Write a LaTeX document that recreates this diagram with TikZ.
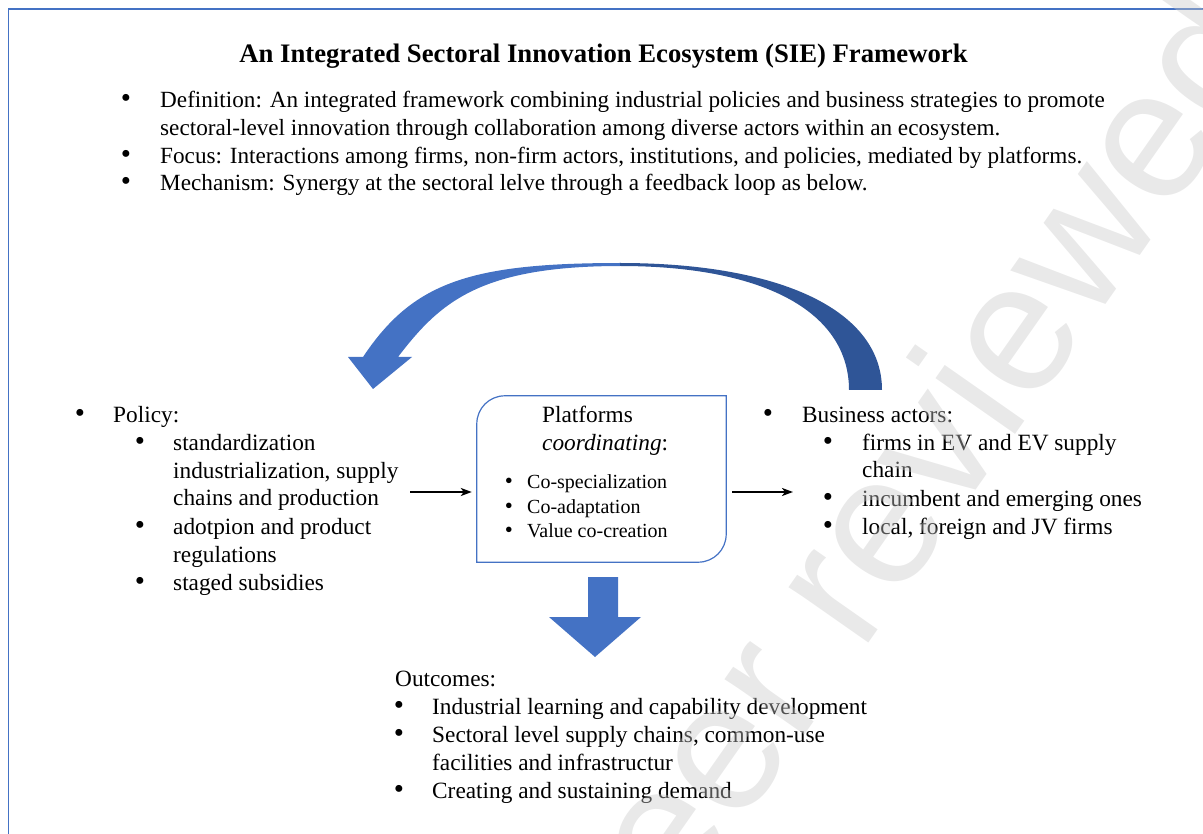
\documentclass[tikz,border=0pt]{standalone}
\usepackage{fontspec}
\setmainfont{Liberation Serif}
\newfontfamily\markfont{Liberation Sans}
\usetikzlibrary{arrows.meta,calc}
\definecolor{accent}{HTML}{4472C4}
\definecolor{accentdark}{HTML}{2F5597}
\definecolor{markgray}{RGB}{200,200,200}

\begin{document}
\begin{tikzpicture}[x=1pt,y=-1pt,
  txt/.style={anchor=base west,inner sep=0pt,font=\fontsize{23.3}{28}\selectfont},
  toptxt/.style={anchor=base west,inner sep=0pt,font=\fontsize{23.2}{28}\selectfont},
  smalltxt/.style={anchor=base west,inner sep=0pt,font=\fontsize{20}{24}\selectfont},
  dot/.style={anchor=base,inner sep=0pt,font=\fontsize{29}{30}\selectfont},
  smalldot/.style={anchor=base,inner sep=0pt,font=\fontsize{23}{24}\selectfont},
  boxline/.style={draw=accent,line width=1.2pt},
  conn/.style={draw=black,line width=2pt,-{Stealth[length=11pt,width=8pt,inset=3pt]}},
  frameline/.style={draw=accent,line width=1.5pt}
]
\useasboundingbox (0,0) rectangle (1203,834);

% page frame
\draw[frameline] (8.5,834) -- (8.5,9) -- (1203,9);

% title
\node[anchor=base,inner sep=0pt,font=\fontsize{26.7}{30}\selectfont\bfseries] (title) at (603.5,63)
  {An Integrated Sectoral Innovation Ecosystem (SIE) Framework};

% introductory bullet list
\node[dot] (tb1) at (126,108) {•};
\node[toptxt] (def1) at (160,108) {Definition: An integrated framework combining industrial policies and business strategies to promote};
\node[toptxt] (def2) at (160,136) {sectoral-level innovation through collaboration among diverse actors within an ecosystem.};
\node[dot] (tb2) at (126,164) {•};
\node[toptxt] (focus) at (160,164) {Focus: Interactions among firms, non-firm actors, institutions, and policies, mediated by platforms.};
\node[dot] (tb3) at (126,191) {•};
\node[toptxt] (mech) at (160,191) {Mechanism: Synergy at the sectoral lelve through a feedback loop as below.};

% policy block
\node[dot] (pb0) at (80,422) {•};
\node[txt] (policy) at (113,422) {Policy:};
\node[dot] (pb1) at (140,450) {•};
\node[txt] (pol1) at (173,450) {standardization};
\node[txt] (pol2) at (173,478) {industrialization, supply};
\node[txt] (pol3) at (173,505) {chains and production};
\node[dot] (pb2) at (140,534) {•};
\node[txt] (pol4) at (173,534) {adotpion and product};
\node[txt] (pol5) at (173,562) {regulations};
\node[dot] (pb3) at (140,590) {•};
\node[txt] (pol6) at (173,590) {staged subsidies};

% platform box
\node[minimum width=249pt,minimum height=166pt,inner sep=0pt] (plat) at (601.5,479) {};
\draw[boxline] (plat.south west) -- ($(plat.north west)+(0,28)$)
  .. controls ($(plat.north west)+(0,12.5)$) and ($(plat.north west)+(12.5,0)$) .. ($(plat.north west)+(28,0)$)
  -- (plat.north east) -- ($(plat.south east)+(0,-28)$)
  .. controls ($(plat.south east)+(0,-12.5)$) and ($(plat.south east)+(-12.5,0)$) .. ($(plat.south east)+(-28,0)$)
  -- cycle;
\node[txt] (plat1) at (542,423) {Platforms};
\node[txt] (plat2) at (542,450) {\itshape coordinating\upshape:};
\node[smalldot] (sb1) at (509,488) {•};
\node[smalltxt] (co1) at (527,488) {Co-specialization};
\node[smalldot] (sb2) at (509,513) {•};
\node[smalltxt] (co2) at (527,513) {Co-adaptation};
\node[smalldot] (sb3) at (509,537) {•};
\node[smalltxt] (co3) at (527,537) {Value co-creation};

% business actors block
\node[dot] (bb0) at (768,422) {•};
\node[txt] (biz) at (802,422) {Business actors:};
\node[dot] (bb1) at (828,450) {•};
\node[txt] (biz1) at (862,450) {firms in EV and EV supply};
\node[txt] (biz2) at (862,477) {chain};
\node[dot] (bb2) at (828,506) {•};
\node[txt] (biz3) at (862,506) {incumbent and emerging ones};
\node[dot] (bb3) at (828,534) {•};
\node[txt] (biz4) at (862,534) {local, foreign and JV firms};

% outcomes block
\node[txt] (out) at (395,686) {Outcomes:};
\node[dot] (ob1) at (399,714) {•};
\node[txt] (out1) at (432,714) {Industrial learning and capability development};
\node[dot] (ob2) at (399,742) {•};
\node[txt] (out2) at (432,742) {Sectoral level supply chains, common-use};
\node[txt] (out3) at (432,770) {facilities and infrastructur};
\node[dot] (ob3) at (399,798) {•};
\node[txt] (out4) at (432,798) {Creating and sustaining demand};

% connectors into and out of the platform box
\coordinate (pin) at (410,492);
\coordinate (bin) at (793,492);
\draw[conn,shorten >=5pt] (pin) -- (pin -| plat.west);
\draw[conn,shorten <=6pt] (plat.east |- bin) -- (bin);

% block arrow down to outcomes
\fill[accent] (588,577) -- (618,577) -- (618,617) -- (641,617) -- (595,657)
  -- (549,617) -- (588,617) -- cycle;

% curved feedback arrow: lighter left half with head, darker right half
\fill[accent] (621,263) .. controls (470,263) and (413,282) .. (363,357)
  -- (348,357) -- (373,389) -- (412,357) -- (398,357)
  .. controls (440,302) and (480,266) .. (621,266) -- cycle;
\fill[accentdark] (620,263) .. controls (780,263) and (882,310) .. (882,390)
  -- (849,390) .. controls (849,315) and (770,266) .. (620,266) -- cycle;

% watermark
\begin{scope}
\clip (0,0) rectangle (1203,834);
\node[rotate=55,inner sep=0pt,text=markgray,opacity=0.4,font=\markfont\fontsize{184}{184}\selectfont] (mark) at (893,494) {Peer reviewed};
\end{scope}
\end{tikzpicture}
\end{document}
